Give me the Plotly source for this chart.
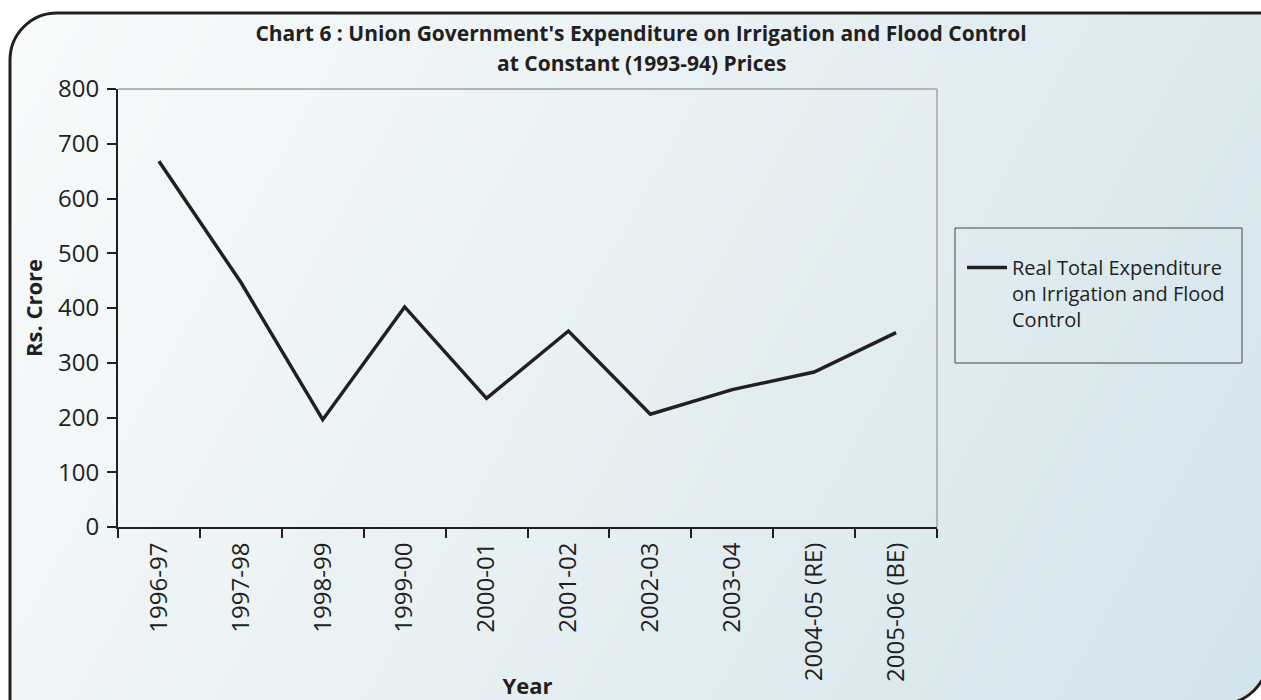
import base64
import plotly.graph_objects as go

# Financial years and real expenditure (Rs. crore, 1993-94 prices)
years = ["1996-97", "1997-98", "1998-99", "1999-00", "2000-01",
         "2001-02", "2002-03", "2003-04", "2004-05 (RE)", "2005-06 (BE)"]
real_expenditure = [668, 447, 196, 402, 235, 358, 206, 251, 283, 355]

series_name = "Real Total Expenditure<br>on Irrigation and Flood<br>Control"
y_ticks = [0, 100, 200, 300, 400, 500, 600, 700, 800]
title_line1 = "Chart 6 : Union Government's Expenditure on Irrigation and Flood Control"
title_line2 = "at Constant (1993-94) Prices"

W, H = 1261, 700
L, R, T, B = 118, 324, 89, 173
PW, PH = W - L - R, H - T - B

INK = "#231f20"
FONT = "Open Sans"

# Panel behind the chart: soft diagonal gradient with rounded corners
svg = f"""<svg xmlns="http://www.w3.org/2000/svg" width="{W}" height="{H}" viewBox="0 0 {W} {H}">
<defs><linearGradient id="g" gradientUnits="userSpaceOnUse" x1="0" y1="0" x2="{W}" y2="{H}">
<stop offset="0" stop-color="#f9fbfc"/><stop offset="0.5" stop-color="#e7f0f3"/><stop offset="1" stop-color="#d2e4eb"/></linearGradient></defs>
<rect width="{W}" height="{H}" fill="#ffffff"/>
<path d="M10,60 A47,47 0 0 1 57,13 H1268 V657 A47,47 0 0 1 1221,704 H10 Z" fill="url(#g)" stroke="{INK}" stroke-width="3"/>
</svg>"""
panel_src = "data:image/svg+xml;base64," + base64.b64encode(svg.encode()).decode()

fig = go.Figure()
fig.add_trace(go.Scatter(
    x=years, y=real_expenditure, mode="lines", name=series_name,
    line=dict(color=INK, width=3.5), showlegend=True,
))

fig.update_layout(
    width=W, height=H,
    margin=dict(l=L, r=R, t=T, b=B, pad=0, autoexpand=False),
    paper_bgcolor="white",
    plot_bgcolor="rgba(0,0,0,0)",
    font=dict(family=FONT, color=INK, size=21),
    title=dict(
        text=f"<b>{title_line1}</b>",
        x=641 / W, xanchor="center", yref="container", y=1 - 34 / H, yanchor="middle",
        font=dict(family=FONT, size=21, color=INK), automargin=False,
    ),
    annotations=[dict(
        text=f"<b>{title_line2}</b>", xref="paper", yref="paper",
        x=(641 - L) / PW, xanchor="center", y=1 + (T - 63) / PH, yanchor="middle",
        showarrow=False, font=dict(family=FONT, size=21, color=INK),
    )],
    xaxis=dict(
        type="category", tickson="boundaries", ticks="outside", ticklen=9,
        tickwidth=2, tickcolor=INK, showline=True, linecolor=INK, linewidth=2,
        showgrid=False, zeroline=False, tickangle=-90, automargin=False,
        tickfont=dict(size=24, color=INK), range=[-0.5, len(years) - 0.5],
        ticklabelstandoff=4,
        title=dict(text="<b>Year</b>", font=dict(size=22, color=INK), standoff=0),
    ),
    yaxis=dict(
        range=[0, 800], tickvals=y_ticks, ticks="outside", ticklen=9,
        tickwidth=2, tickcolor=INK, showline=True, linecolor=INK, linewidth=2,
        showgrid=False, zeroline=False, tickfont=dict(size=24, color=INK),
        automargin=False, ticklabelstandoff=3,
        title=dict(text="<b>Rs. Crore</b>", font=dict(size=22, color=INK), standoff=9),
    ),
    legend=dict(
        x=(962 - L) / PW, xanchor="left", y=(H - B - 248) / PH, yanchor="top",
        bgcolor="rgba(0,0,0,0)", borderwidth=0, valign="top",
        font=dict(size=20, color=INK), itemwidth=40,
    ),
    images=[dict(
        source=panel_src, xref="paper", yref="paper",
        x=-L / PW, y=1 + T / PH, sizex=W / PW, sizey=H / PH,
        xanchor="left", yanchor="top", sizing="stretch", layer="below",
    )],
    shapes=[
        # light frame on top and right of the plot area
        dict(type="line", xref="paper", yref="paper", x0=0, x1=1, y0=1, y1=1,
             line=dict(color="#b5b5b5", width=2)),
        dict(type="line", xref="paper", yref="paper", x0=1, x1=1, y0=0, y1=1,
             line=dict(color="#b5b5b5", width=2)),
        # legend box
        dict(type="rect", xref="paper", yref="paper",
             x0=(955 - L) / PW, x1=(1242 - L) / PW,
             y0=(H - B - 363) / PH, y1=(H - B - 228) / PH,
             line=dict(color="#444444", width=1), fillcolor="rgba(0,0,0,0)"),
    ],
)

fig.write_html("out.html")
